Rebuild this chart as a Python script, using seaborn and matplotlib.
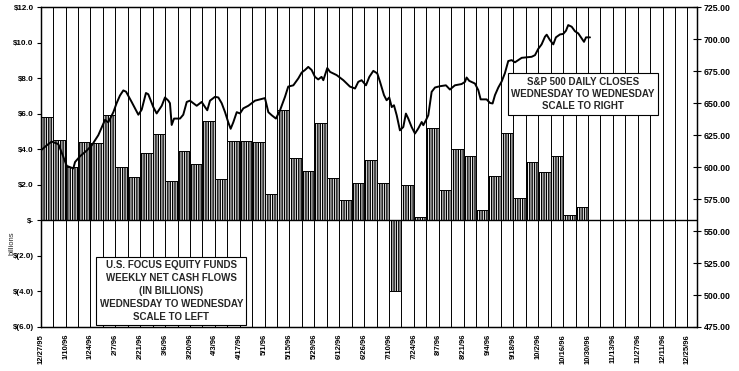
import numpy as np
import pandas as pd
import matplotlib
matplotlib.use("Agg")
import matplotlib.pyplot as plt
import seaborn as sns

# ---------------- data ----------------
tick_labels = ["12/27/95", "1/10/96", "1/24/96", "2/7/96", "2/21/96", "3/6/96", "3/20/96",
               "4/3/96", "4/17/96", "5/1/96", "5/15/96", "5/29/96", "6/12/96", "6/26/96",
               "7/10/96", "7/24/96", "8/7/96", "8/21/96", "9/4/96", "9/18/96", "10/2/96",
               "10/16/96", "10/30/96", "11/13/96", "11/27/96", "12/11/96", "12/25/96"]

# weekly net cash flows (billions), one per week starting 12/27/95
weekly_flows = [5.82, 4.51, 2.99, 4.44, 4.38, 5.91, 3.02, 2.46, 3.81, 4.87,
                2.22, 3.92, 3.17, 5.60, 2.31, 4.46, 4.47, 4.39, 1.49, 6.19,
                3.49, 2.76, 5.50, 2.41, 1.16, 2.13, 3.43, 2.13, -4.00, 1.98,
                0.22, 5.19, 1.70, 4.05, 3.60, 0.60, 2.50, 4.94, 1.27, 3.28,
                2.74, 3.62, 0.32, 0.75]

# S&P 500 daily closes (time in weeks since 12/27/95, close)
sp_week = [0.0, 0.48, 0.88, 1.42, 1.82, 2.09, 2.62, 2.76, 3.16, 3.7, 4.1, 4.63, 4.9,
           5.17, 5.43, 5.84, 6.1, 6.37, 6.64, 6.86, 7.31, 7.85, 8.12, 8.46, 8.65, 9.05,
           9.32, 9.73, 9.99, 10.26, 10.39, 10.53, 10.72, 11.2, 11.46, 11.74, 12.0, 12.27,
           12.54, 12.94, 13.21, 13.39, 13.61, 14.01, 14.28, 14.55, 14.82, 15.08, 15.27,
           15.48, 15.76, 16.02, 16.29, 16.69, 17.23, 18.03, 18.3, 18.57, 18.91, 19.24,
           19.64, 19.9, 20.31, 20.71, 20.98, 21.25, 21.51, 21.78, 22.05, 22.31, 22.58,
           22.72, 23.04, 23.26, 23.79, 24.33, 24.86, 25.27, 25.53, 25.8, 26.15, 26.42,
           26.74, 27.06, 27.28, 27.6, 27.81, 28.02, 28.22, 28.4, 28.62, 28.88, 29.15,
           29.36, 29.55, 29.82, 30.09, 30.35, 30.63, 30.76, 30.97, 31.16, 31.43, 31.7,
           32.1, 32.58, 32.9, 33.3, 33.84, 34.11, 34.24, 34.45, 34.91, 35.18, 35.37,
           35.85, 36.12, 36.33, 36.52, 36.79, 37.06, 37.32, 37.59, 37.86, 38.13, 38.67,
           39.47, 39.74, 40.0, 40.27, 40.54, 40.68, 40.94, 41.21, 41.42, 41.75, 42.01,
           42.23, 42.41, 42.69, 42.95, 43.22, 43.49, 43.68, 43.84, 44.16]
sp_close = [613, 617, 620, 618, 608, 601, 599, 604, 608.5, 613, 617, 625, 631,
            637, 635, 643, 650, 656, 660, 659, 651, 641, 645, 658, 657, 647,
            642, 648, 654.5, 652, 650, 633, 638, 638, 641, 651, 652, 650,
            648, 651, 647, 644.5, 652, 655, 654.5, 650, 643, 635, 630,
            635, 643, 642, 646, 648, 652, 654, 643, 640.6, 638, 644.5,
            655, 663, 664, 669.4, 674, 676, 678.4, 676, 670.6, 668.6, 670.6,
            668, 677.5, 674.5, 672, 668, 663, 661.5, 666.7, 668, 664, 670.6,
            675.3, 673.3, 666.7, 656.3, 652.3, 654.5, 647, 648.4, 640.6, 628.8, 631.4,
            641.9, 638, 631.4, 626.3, 630.2, 635.3, 632.8, 636.7, 640.6, 658.9, 662.3,
            663.3, 664, 660.7, 664, 665, 666.7, 670.1, 667.5, 665.4, 660.2, 653,
            653, 650.2, 649.8, 656.3, 662.3, 667, 673.5, 683, 683.7, 682, 685.5,
            686.3, 687.6, 692.5, 696, 702, 703.6, 699.4, 696, 701.5, 703.8, 704.2,
            706.7, 711.1, 709.8, 706.3, 704.6, 700.7, 698, 701.5, 701.5]

left_ticks = [12, 10, 8, 6, 4, 2, 0, -2, -4, -6]
left_tick_labels = ["$12.0", "$10.0", "$8.0", "$6.0", "$4.0", "$2.0", "$-",
                    "$(2.0)", "$(4.0)", "$(6.0)"]
right_ticks = [725, 700, 675, 650, 625, 600, 575, 550, 525, 500, 475]

sp_text = "S&P 500 DAILY CLOSES\nWEDNESDAY TO WEDNESDAY\nSCALE TO RIGHT"
flow_text = ("U.S. FOCUS EQUITY FUNDS\nWEEKLY NET CASH FLOWS\n(IN BILLIONS)\n"
             "WEDNESDAY TO WEDNESDAY\nSCALE TO LEFT")

# ---------------- style ----------------
sns.set_style("white")
plt.rcParams["font.family"] = ["Liberation Sans", "DejaVu Sans"]
plt.rcParams["hatch.linewidth"] = 1.0
plt.rcParams["hatch.color"] = "black"

n_weeks = 52
fig = plt.figure(figsize=(7.39, 3.71), dpi=100)
ax = fig.add_axes([0.0551, 0.1186, 0.888, 0.8617])

# weekly gridlines
ax.vlines(np.arange(n_weeks + 1), -6, 12, color="black", lw=0.7, zorder=0.5)

flows_df = pd.DataFrame({"week": np.arange(len(weekly_flows)) + 0.5,
                         "flow": weekly_flows})
sns.barplot(data=flows_df, x="week", y="flow", native_scale=True, width=1.0,
            color="white", errorbar=None, ax=ax, zorder=2)
for p in ax.patches:
    p.set_facecolor("white")
    p.set_edgecolor("black")
    p.set_linewidth(0.7)
    p.set_hatch("|||||||")

ax.axhline(0, color="black", lw=1.0, zorder=3)
ax.set_xlim(0, 52.76)
ax.set_ylim(-6, 12)
ax.set_yticks(left_ticks)
ax.set_yticklabels(left_tick_labels, fontsize=5.8, fontweight="bold")
ax.set_xticks(np.arange(0, n_weeks + 1, 2))
ax.set_xticklabels(tick_labels, rotation=90, fontsize=5.5, fontweight="bold")
ax.set_xlabel("")
ax.set_ylabel("")
ax.tick_params(axis="y", direction="out", length=3, width=0.8, pad=2, colors="black")
ax.tick_params(axis="x", direction="out", length=0, pad=5, colors="black")
for s in ax.spines.values():
    s.set_color("black")
    s.set_linewidth(0.9)

# S&P line on right axis
ax2 = ax.twinx()
sp_df = pd.DataFrame({"week": sp_week, "close": sp_close})
sns.lineplot(data=sp_df, x="week", y="close", color="black", lw=1.4, ax=ax2)
ax2.set_ylim(475, 725)
ax2.set_yticks(right_ticks)
ax2.set_yticklabels([f"{v:.2f}" for v in right_ticks], fontsize=6.3, fontweight="bold")
ax2.tick_params(axis="y", direction="inout", length=6, width=0.8, pad=2, colors="black")
ax2.set_xlabel("")
ax2.set_ylabel("")
ax2.set_xlim(0, 52.76)
for s in ax2.spines.values():
    s.set_color("black")
    s.set_linewidth(0.9)

box = dict(boxstyle="square,pad=0.35", facecolor="white", edgecolor="black", lw=0.8)
ax2.text(0.826, 0.729, sp_text, transform=ax2.transAxes, ha="center", va="center",
         fontsize=7, fontweight="bold", linespacing=1.3, bbox=box, zorder=10)
ax2.text(0.199, 0.1126, flow_text, transform=ax2.transAxes, ha="center", va="center",
         fontsize=7, fontweight="bold", linespacing=1.35, bbox=box, zorder=10)

fig.text(0.016, 0.345, "billions", rotation=90, fontsize=5.5, ha="center", va="center")

fig.savefig("out.png", dpi=100)
